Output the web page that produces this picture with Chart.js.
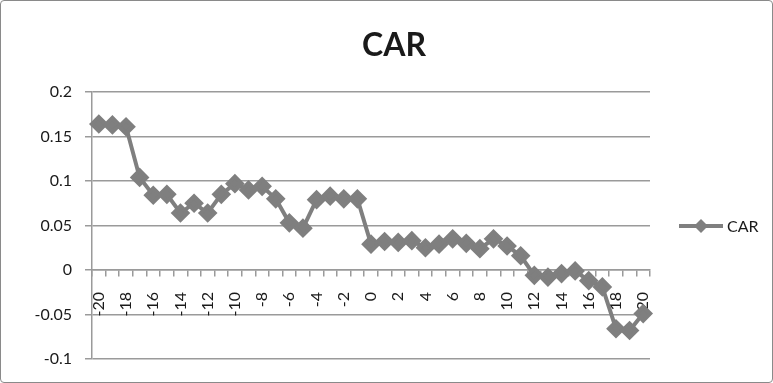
<!DOCTYPE html>
<html>
<head>
<meta charset="utf-8">
<script src="https://cdn.jsdelivr.net/npm/chart.js@4.4.1/dist/chart.umd.min.js"></script>
<style>
  html, body { margin: 0; padding: 0; background: #fff; }
  #wrap {
    width: 773px; height: 383px; box-sizing: border-box;
    border: 1px solid #8a8a8a; border-radius: 4px; position: relative;
  }
  #carChart { display: block; }
</style>
</head>
<body>
<div id="wrap"><canvas id="carChart" width="771" height="381"></canvas></div>
<script>
// event window days
const days = [];
for (let d = -20; d <= 20; d++) days.push(String(d));

// cumulative abnormal return per day
const carValues = [
  0.164, 0.163, 0.161, 0.104, 0.084, 0.085, 0.064, 0.075, 0.064, 0.085,
  0.097, 0.090, 0.094, 0.080, 0.053, 0.047, 0.079, 0.083, 0.080, 0.080,
  0.029, 0.032, 0.031, 0.033, 0.025, 0.029, 0.035, 0.030, 0.024, 0.035,
  0.027, 0.016, -0.006, -0.008, -0.004, -0.001, -0.012, -0.019, -0.066, -0.068,
  -0.049
];

const yTicks = [-0.1, -0.05, 0, 0.05, 0.1, 0.15, 0.2];
const chartTitle = 'CAR';
const seriesColor = '#7f7f7f';
const gridColor = '#9a9a9a';
const textColor = '#1a1a1a';
const fontFamily = 'Lato, "Open Sans", sans-serif';

// title and legend (line + diamond swatch) drawn by hand
const decorations = {
  id: 'decorations',
  afterDraw(chart) {
    const ctx = chart.ctx;
    ctx.save();
    ctx.fillStyle = textColor;
    ctx.font = 'bold 32px ' + fontFamily;
    ctx.textAlign = 'center';
    ctx.textBaseline = 'alphabetic';
    ctx.fillText(chartTitle, 393, 55);

    const ly = 225;
    ctx.strokeStyle = seriesColor;
    ctx.lineWidth = 4;
    ctx.beginPath(); ctx.moveTo(678, ly); ctx.lineTo(722, ly); ctx.stroke();
    ctx.fillStyle = seriesColor;
    ctx.beginPath();
    ctx.moveTo(700, ly - 7); ctx.lineTo(707, ly); ctx.lineTo(700, ly + 7); ctx.lineTo(693, ly);
    ctx.closePath(); ctx.fill();
    ctx.fillStyle = textColor;
    ctx.font = '16px ' + fontFamily;
    ctx.textAlign = 'left';
    ctx.textBaseline = 'middle';
    ctx.fillText(chart.data.datasets[0].label, 726, ly + 1);
    ctx.restore();
  }
};

new Chart(document.getElementById('carChart'), {
  type: 'line',
  data: {
    labels: days,
    datasets: [{
      label: 'CAR',
      data: carValues,
      borderColor: seriesColor,
      backgroundColor: seriesColor,
      borderWidth: 4,
      pointStyle: 'rectRot',
      pointRadius: 7,
      pointHoverRadius: 7,
      tension: 0
    }]
  },
  plugins: [decorations],
  options: {
    responsive: false,
    animation: false,
    layout: { padding: { left: 0, right: 122, top: 91, bottom: 23 } },
    plugins: {
      title: { display: false },
      legend: { display: false },
      tooltip: { enabled: false }
    },
    scales: {
      x: {
        position: { y: 0 },
        offset: true,
        grid: {
          offset: true,
          drawOnChartArea: false,
          drawTicks: true,
          tickLength: 6,
          color: gridColor,
          lineWidth: 1.5
        },
        border: { display: true, color: gridColor, width: 1.5 },
        ticks: {
          autoSkip: false,
          maxRotation: 90,
          minRotation: 90,
          padding: 16,
          color: textColor,
          font: { family: fontFamily, size: 16 },
          callback: function (val) {
            const d = Number(this.getLabelForValue(val));
            return d % 2 === 0 ? String(d) : '';
          }
        }
      },
      y: {
        min: -0.1,
        max: 0.2,
        afterBuildTicks: (scale) => {
          scale.ticks = yTicks.map(v => ({ value: v }));
        },
        afterFit: (scale) => { scale.width = 91; },
        grid: {
          color: gridColor,
          lineWidth: 1.5,
          tickLength: 7
        },
        border: { display: true, color: gridColor, width: 1.5 },
        ticks: {
          padding: 13,
          color: textColor,
          font: { family: fontFamily, size: 16 },
          callback: (v) => String(parseFloat(Number(v).toFixed(2)))
        }
      }
    }
  }
});
</script>
</body>
</html>
